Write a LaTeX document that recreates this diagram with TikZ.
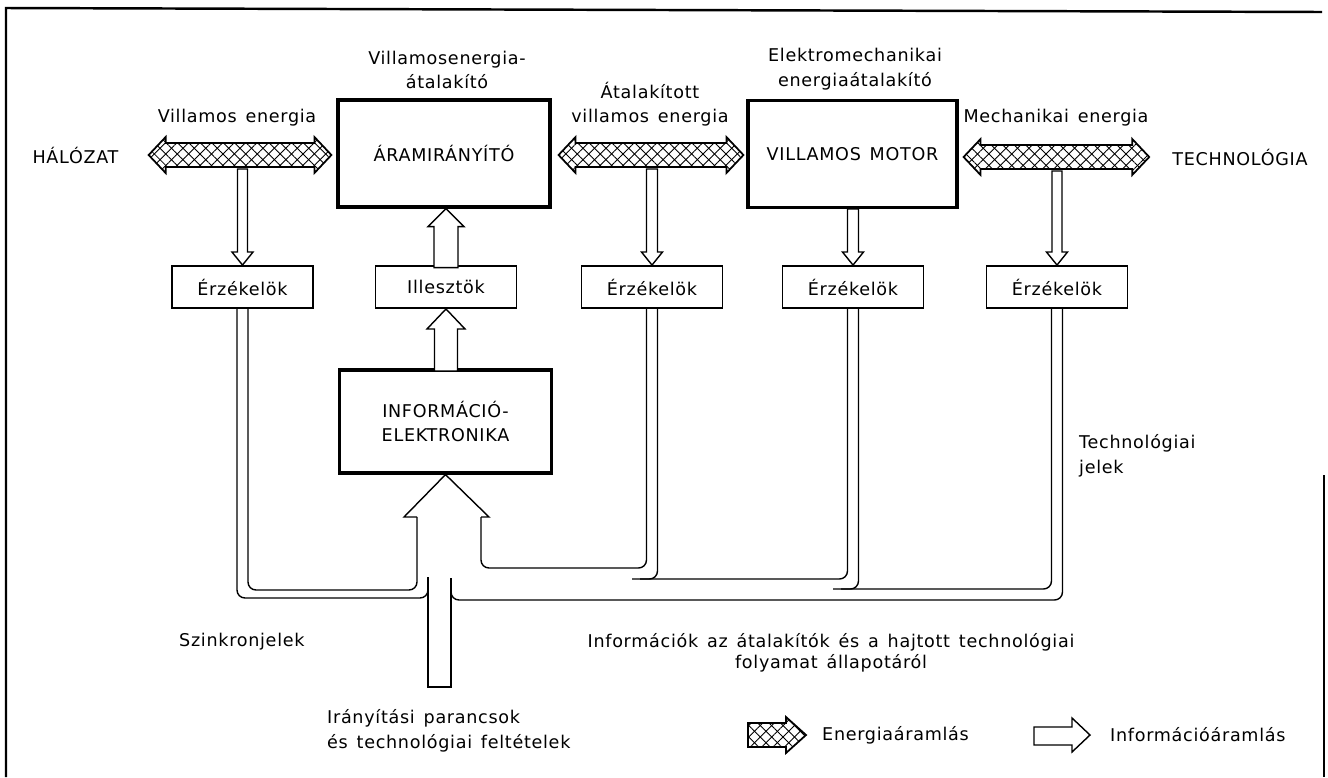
\documentclass[tikz,border=0pt]{standalone}
\usepackage{fontspec}
\setmainfont{DejaVu Sans}[LetterSpace=4, WordSpace=1.4]
\usetikzlibrary{calc,patterns.meta}

% hollow information arrow: tip, length, shaft half width, head half width, head length
\newcommand{\infoarrow}[5]{%
  \draw[infoflow] (#1) -- ++(-#4,#5) -- ++({#4-#3},0) -- ++(0,{(#2)-(#5)})
    -- ++({2*#3},0) -- ++(0,{(#5)-(#2)}) -- ++({#4-#3},0) -- cycle;}

% hatched energy arrow between two tips
\newcommand{\energyarrow}[2]{%
  \draw[energy] (#1) -- ($(#1)+(17,-18)$) -- ($(#1)+(17,-12)$) -- ($(#2)+(-17,-12)$)
    -- ($(#2)+(-17,-18)$) -- (#2) -- ($(#2)+(-17,18)$) -- ($(#2)+(-17,12)$)
    -- ($(#1)+(17,12)$) -- ($(#1)+(17,18)$) -- cycle;}

\begin{document}
\begin{tikzpicture}[x=0.2mm, y=-0.2mm, font=\fontsize{10}{14}\selectfont,
    box/.style={draw, line width=1.8pt, minimum width=42.4mm, minimum height=21.4mm, align=center},
    sensor/.style={draw, line width=1.1pt, minimum width=28.2mm, minimum height=8.4mm},
    lbl/.style={align=center},
    infoflow/.style={draw, fill=white, line width=0.8pt},
    pipe/.style={line width=0.8pt, rounded corners=1.6mm},
    energy/.style={draw, line width=1pt,
      preaction={pattern={Lines[angle=45,distance=4.6pt,line width=0.5pt]}},
      pattern={Lines[angle=-45,distance=4.6pt,line width=0.5pt]}}]

	\useasboundingbox (0,0) rectangle (1328,777);

	% frame
	\draw[line width=1.4pt] (6,777) -- (6,8) -- (1322,12);
	\draw[line width=1.4pt] (1324,475) -- (1324,777);

	% main blocks
	\node[box] (aram) at (444,153.5) {ÁRAMIRÁNYÍTÓ};
	\node[box, minimum width=41.8mm] (motor) at (852.5,154) {VILLAMOS MOTOR};
	\node[box, minimum height=20.6mm] (infel) at (445.5,421.5) {INFORMÁCIÓ-\\ELEKTRONIKA};

	% sensors and matching
	\node[sensor] (s1) at (242.5,287) {Érzékelök};
	\node[sensor] (ill) at (446,287) {Illesztök};
	\node[sensor] (s2) at (652,287) {Érzékelök};
	\node[sensor] (s3) at (853,287) {Érzékelök};
	\node[sensor] (s4) at (1057,287) {Érzékelök};

	% labels
	\node[lbl] (halo) at (75.5,155) {HÁLÓZAT};
	\node[lbl] (techn) at (1240,157) {TECHNOLÓGIA};
	\node[lbl] (conv) at (447,70) {Villamosenergia-\\átalakító};
	\node[lbl] (emconv) at (855,69) {Elektromechanikai\\energiaátalakító};
	\node[lbl] (lv1) at (237,118) {Villamos energia};
	\node[lbl] (lv2) at (650,104) {Átalakított\\villamos energia};
	\node[lbl] (lv3) at (1056,118) {Mechanikai energia};
	\node[lbl, align=left, anchor=west] (techsig) at (1073,456) {Technológiai\\jelek};
	\node[lbl, anchor=west] (sync) at (173,642) {Szinkronjelek};
	\node[lbl, font=\fontsize{10}{12}\selectfont] (state) at (831,653) {Információk az átalakítók és a hajtott technológiai\\folyamat állapotáról};
	\node[lbl, align=left, anchor=west] (cmd) at (321,731) {Irányítási parancsok\\és technológiai feltételek};

	% energy flow
	\coordinate (e1a) at ($(halo.east)+(24,0)$);
	\coordinate (e1b) at ($(aram.west)+(-5,1.5)$);
	\coordinate (e2a) at ($(aram.east)+(7,1.5)$);
	\coordinate (e2b) at ($(motor.west)+(-3,1)$);
	\coordinate (e3a) at ($(motor.east)+(5,3)$);
	\coordinate (e3b) at ($(techn.west)+(-17,0)$);
	\energyarrow{e1a}{e1b}
	\energyarrow{e2a}{e2b}
	\energyarrow{e3a}{e3b}

	% information flow to sensors
	\infoarrow{s1.north}{-96}{5}{10.5}{-13}
	\infoarrow{s2.north}{-96}{5.5}{10.5}{-13}
	\infoarrow{s3.north}{-56}{5.5}{10.5}{-13}
	\infoarrow{s4.north}{-94}{5}{10.5}{-13}

	% control path
	\infoarrow{ill.north |- aram.south}{59}{12}{18}{18}
	\infoarrow{ill.south}{62}{11.5}{19}{20}

	% signal channels
	\draw[pipe] ($(s1.south)+(5.5,0)$) |- (417,590) -- (417,517);
	\draw[pipe] ($(s1.south)+(-5.5,0)$) |- (428,598) -- (428,586);
	\draw[pipe, sharp corners] (428,577) -- (428,687) -- (451,687) -- (451,578);
	\draw[pipe] (451,586) -- (451,600) -| ($(s4.south)+(5.5,0)$);
	\draw[pipe] (481,517) -- (481,568) -| ($(s2.south)+(-5.5,0)$);
	\draw[pipe] ($(s2.south)+(5.5,0)$) |- (640,579);
	\draw[pipe] (632,579) -| ($(s3.south)+(-5.5,0)$);
	\draw[pipe] ($(s3.south)+(5.5,0)$) |- (841,589);
	\draw[pipe] (833,589) -| ($(s4.south)+(-5.5,0)$);
	\draw[pipe, sharp corners] (417,517) -- (404,517) -- (infel.south) -- (489,517) -- (481,517);

	% legend
	\draw[energy] (748,723) -- (786,723) -- (786,717) -- (806,735) -- (786,753) -- (786,747) -- (748,747) -- cycle;
	\node[lbl, anchor=west] (leg1) at (816,735) {Energiaáramlás};
	\draw[infoflow] (1034,727) -- (1072,727) -- (1072,718) -- (1090,735) -- (1072,752) -- (1072,745) -- (1034,745) -- cycle;
	\node[lbl, anchor=west] (leg2) at (1104,735) {Információáramlás};

\end{tikzpicture}
\end{document}
